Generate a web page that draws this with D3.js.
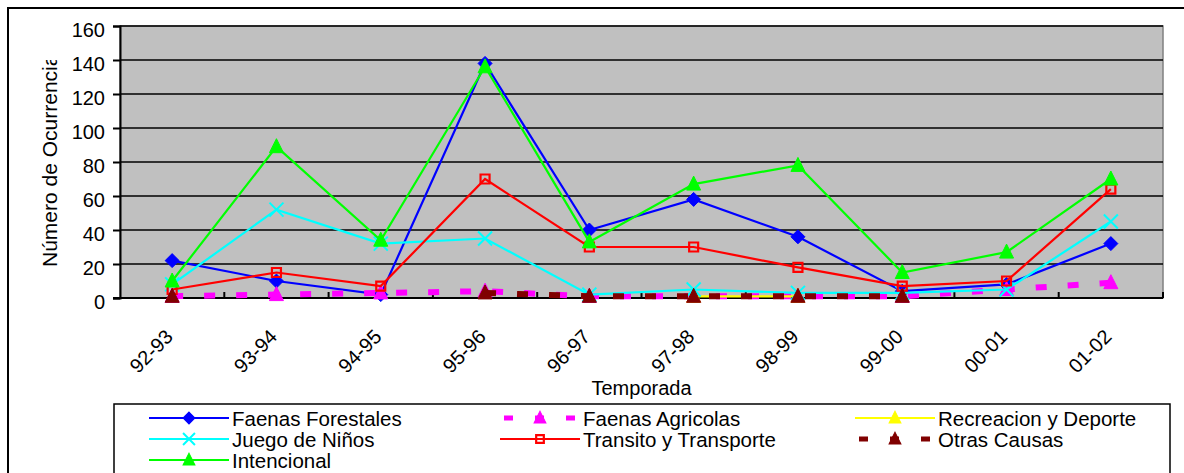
<!DOCTYPE html>
<html>
<head>
<meta charset="utf-8">
<script src="https://cdn.jsdelivr.net/npm/d3@7"></script>
<style>
  body { margin: 0; background: #fff; }
  svg text { font-family: "Liberation Sans", Arial, sans-serif; fill: #000; }
</style>
</head>
<body>
<div id="chart"></div>
<script>
// Seasons on the x axis
const seasons = ["92-93", "93-94", "94-95", "95-96", "96-97", "97-98", "98-99", "99-00", "00-01", "01-02"];

// One array per cause (null = no value in the sheet)
const faenasForestales = [22, 10, 2, 138, 40, 58, 36, 4, 8, 32];
const faenasAgricolas = [1, 2, 3, 4, 1, 1, 1, 1, 5, 9];
const recreacionDeporte = [null, null, null, null, null, 1, 1, null, null, null];
const juegoNinos = [8, 52, 32, 35, 2, 5, 3, 3, 5, 45];
const transitoTransporte = [5, 15, 7, 70, 30, 30, 18, 7, 10, 64];
const otrasCausas = [1, null, null, 3, 1, 1, 1, 1, null, null];
const intencional = [10, 89, 34, 136, 33, 67, 78, 15, 27, 70];

const seriesNames = ["Faenas Forestales", "Faenas Agricolas", "Recreacion y Deporte",
  "Juego de Niños", "Transito y Transporte", "Otras Causas", "Intencional"];

const yTicks = [0, 20, 40, 60, 80, 100, 120, 140, 160];

class OcurrenciasVis {
  constructor(_parentElement, _seasons, _series) {
    this.parentElement = _parentElement;
    this.seasons = _seasons;
    this.series = _series;
    this.initVis();
  }

  initVis() {
    let vis = this;

    vis.width = 1184;
    vis.height = 473;
    vis.plot = { left: 120, top: 26, right: 1163, bottom: 298 };

    vis.svg = d3.select("#" + vis.parentElement)
      .append("svg")
      .attr("width", vis.width)
      .attr("height", vis.height);

    // outer chart border (right/bottom run off the picture)
    vis.svg.append("rect")
      .attr("x", 8).attr("y", 8)
      .attr("width", 1200).attr("height", 500)
      .attr("fill", "#fff")
      .attr("stroke", "#000")
      .attr("stroke-width", 2);

    // plot area
    vis.svg.append("rect")
      .attr("x", vis.plot.left).attr("y", vis.plot.top)
      .attr("width", vis.plot.right - vis.plot.left)
      .attr("height", vis.plot.bottom - vis.plot.top)
      .attr("fill", "#c0c0c0")
      .attr("stroke", "#808080")
      .attr("stroke-width", 1.5);

    // scales
    vis.x = d3.scaleBand()
      .domain(vis.seasons)
      .range([vis.plot.left, vis.plot.right]);

    vis.y = d3.scaleLinear()
      .domain([0, 160])
      .range([vis.plot.bottom, vis.plot.top]);

    // gridlines
    vis.svg.append("g")
      .selectAll("line")
      .data(yTicks.filter(d => d > 0))
      .enter().append("line")
      .attr("x1", vis.plot.left).attr("x2", vis.plot.right)
      .attr("y1", d => vis.y(d)).attr("y2", d => vis.y(d))
      .attr("stroke", "#000")
      .attr("stroke-width", 1.5);

    // y axis
    vis.yAxis = d3.axisLeft(vis.y)
      .tickValues(yTicks)
      .tickSize(7)
      .tickPadding(8);

    let yAxisG = vis.svg.append("g")
      .attr("transform", "translate(" + vis.plot.left + ",0)")
      .call(vis.yAxis);
    yAxisG.select(".domain").attr("stroke", "#000").attr("stroke-width", 2);
    yAxisG.selectAll(".tick line").attr("stroke", "#000").attr("stroke-width", 2);
    yAxisG.selectAll(".tick text")
      .attr("font-size", 20)
      .attr("dy", "0.5em")
      .style("font-family", "'Liberation Sans', Arial, sans-serif");

    // x axis line + inside ticks at category boundaries
    vis.svg.append("line")
      .attr("x1", vis.plot.left - 7).attr("x2", vis.plot.right)
      .attr("y1", vis.plot.bottom).attr("y2", vis.plot.bottom)
      .attr("stroke", "#000").attr("stroke-width", 2);

    let bounds = vis.seasons.map(s => vis.x(s)).concat([vis.plot.right]);
    vis.svg.append("g")
      .selectAll("line")
      .data(bounds.slice(1))
      .enter().append("line")
      .attr("x1", d => d).attr("x2", d => d)
      .attr("y1", vis.plot.bottom).attr("y2", vis.plot.bottom - 6)
      .attr("stroke", "#000").attr("stroke-width", 2);

    // rotated season labels
    vis.svg.append("g")
      .selectAll("text")
      .data(vis.seasons)
      .enter().append("text")
      .attr("transform", d => "translate(" + (vis.x(d) + vis.x.bandwidth() / 2 + 2) + ",338) rotate(-45)")
      .attr("text-anchor", "end")
      .attr("font-size", 20)
      .text(d => d);

    // axis titles
    vis.svg.append("text")
      .attr("x", (vis.plot.left + vis.plot.right) / 2)
      .attr("y", 395)
      .attr("text-anchor", "middle")
      .attr("font-size", 20)
      .text("Temporada");

    // the y title is cut at the top in the original, so clip it
    vis.svg.append("clipPath")
      .attr("id", "ytitle-clip")
      .append("rect")
      .attr("x", 0).attr("y", 60)
      .attr("width", 100).attr("height", 300);

    vis.svg.append("g")
      .attr("clip-path", "url(#ytitle-clip)")
      .append("text")
      .attr("transform", "translate(57,267) rotate(-90)")
      .attr("text-anchor", "start")
      .attr("font-size", 21)
      .text("Número de Ocurrencias");

    vis.line = d3.line()
      .defined(d => d != null)
      .x((d, i) => vis.x(vis.seasons[i]) + vis.x.bandwidth() / 2)
      .y(d => vis.y(d));

    vis.seriesG = vis.svg.append("g");
    vis.legendG = vis.svg.append("g");

    vis.wrangleData();
  }

  wrangleData() {
    let vis = this;
    vis.displayData = vis.series;
    vis.updateVis();
  }

  markerPath(type) {
    if (type === "diamond") return "M0,-7L7,0L0,7L-7,0Z";
    if (type === "square") return "M-4.5,-4.5H4.5V4.5H-4.5Z";
    if (type === "triangle") return "M0,-8L7,6L-7,6Z";
    if (type === "x") return "M-7,-7L7,7M-7,7L7,-7";
    return "";
  }

  drawMarker(g, s, x, y, scale) {
    let vis = this;
    let m = g.append("path")
      .attr("d", vis.markerPath(s.marker))
      .attr("transform", "translate(" + x + "," + y + ") scale(" + scale + ")");
    if (s.marker === "x") {
      m.attr("fill", "none").attr("stroke", s.color).attr("stroke-width", 2 / scale);
    } else if (s.marker === "square") {
      m.attr("fill", "none").attr("stroke", s.color).attr("stroke-width", 2.2 / scale);
    } else {
      m.attr("fill", s.color).attr("stroke", s.color).attr("stroke-width", 1 / scale);
    }
  }

  updateVis() {
    let vis = this;

    vis.displayData.forEach(s => {
      let g = vis.seriesG.append("g");
      g.append("path")
        .datum(s.values)
        .attr("d", vis.line)
        .attr("fill", "none")
        .attr("stroke", s.color)
        .attr("stroke-width", s.dashed ? 6 : 2.2)
        .attr("stroke-dasharray", s.dashed ? "11,21" : null);

      s.values.forEach((v, i) => {
        if (v == null) return;
        vis.drawMarker(g, s, vis.x(vis.seasons[i]) + vis.x.bandwidth() / 2, vis.y(v), 1);
      });
    });

    // legend
    vis.legendG.append("rect")
      .attr("x", 114).attr("y", 404)
      .attr("width", 1056).attr("height", 100)
      .attr("fill", "#fff")
      .attr("stroke", "#000")
      .attr("stroke-width", 1.5);

    let colX = [149, 500, 855];
    let rowY = [418, 439, 460];

    vis.displayData.forEach((s, i) => {
      let x0 = colX[i % 3], y0 = rowY[Math.floor(i / 3)];
      let item = vis.legendG.append("g");
      item.append("line")
        .attr("x1", x0).attr("x2", x0 + 80)
        .attr("y1", y0).attr("y2", y0)
        .attr("stroke", s.color)
        .attr("stroke-width", s.dashed ? 5 : 2.2)
        .attr("stroke-dasharray", s.dashed ? "9,22" : null)
        .attr("stroke-dashoffset", s.dashed ? -4 : null);
      vis.drawMarker(item, s, x0 + 40, y0, 0.85);
      item.append("text")
        .attr("x", x0 + 83)
        .attr("y", y0 + 8)
        .attr("font-size", 20.5)
        .text(s.name);
    });
  }
}

const seriesList = [
  { name: seriesNames[0], values: faenasForestales, color: "#0000ff", marker: "diamond" },
  { name: seriesNames[1], values: faenasAgricolas, color: "#ff00ff", marker: "triangle", dashed: true },
  { name: seriesNames[2], values: recreacionDeporte, color: "#ffff00", marker: "triangle" },
  { name: seriesNames[3], values: juegoNinos, color: "#00ffff", marker: "x" },
  { name: seriesNames[4], values: transitoTransporte, color: "#ff0000", marker: "square" },
  { name: seriesNames[5], values: otrasCausas, color: "#800000", marker: "triangle", dashed: true },
  { name: seriesNames[6], values: intencional, color: "#00ff00", marker: "triangle" }
];

let ocurrenciasVis = new OcurrenciasVis("chart", seasons, seriesList);
</script>
</body>
</html>
